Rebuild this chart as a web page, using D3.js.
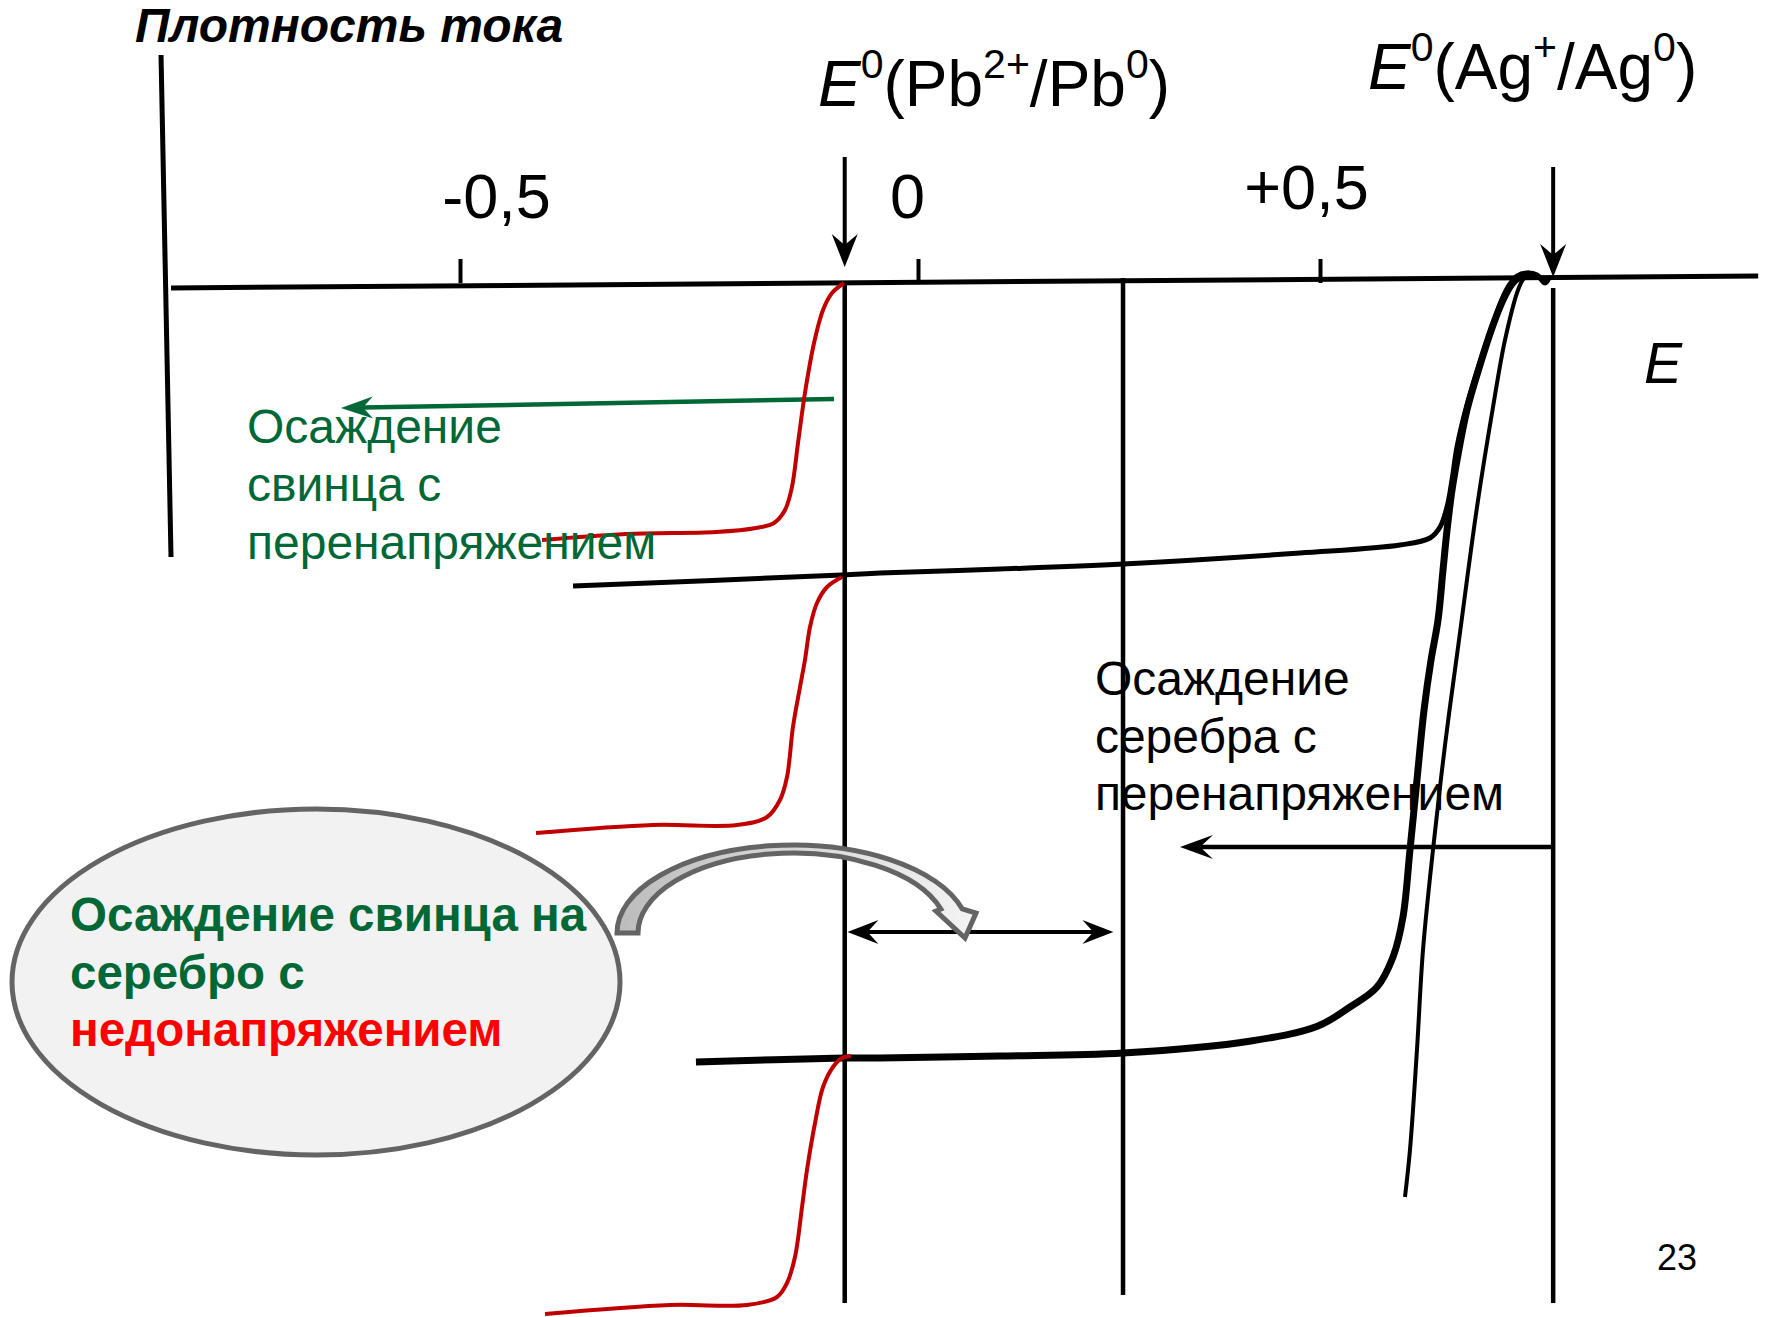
<!DOCTYPE html>
<html><head><meta charset="utf-8">
<script src="https://cdn.jsdelivr.net/npm/d3@7"></script>
<style>
html,body{margin:0;padding:0;background:#fff;}
svg{display:block;font-family:"Liberation Sans",Arial,sans-serif;}
</style>
</head><body>
<svg id="chart" width="1765" height="1317"></svg>
<script>
// ---------------- DATA ----------------
// potential axis (V) tick values and their labels
const tickValues = [-0.5, 0, 0.5];
const tickLabels = ["-0,5", "0", "+0,5"];
// marker potentials as drawn (V)
const ePb = -0.08, eMid = 0.255, eAg = 0.79;
// axis extents [E, j]
const xAxisEnds = [[-0.8155, -0.06], [1.045, 0.06]];
const yAxisEnds = [[-0.8264, 2.27], [-0.8155, -2.75]];

// red: lead deposition curves [E (V), j (arb. units)]
const redTop = [[-0.4105,-2.58],[-0.3188,-2.52],[-0.2205,-2.50],[-0.1769,-2.46],[-0.1572,-2.41],[-0.1452,-2.28],[-0.1376,-2.05],[-0.1310,-1.61],[-0.1234,-1.11],[-0.1135,-0.61],[-0.1037,-0.28],[-0.0939,-0.11],[-0.0808,-0.01]];
const redMid = [[-0.4170,-5.51],[-0.2893,-5.43],[-0.1976,-5.43],[-0.1648,-5.35],[-0.1507,-5.18],[-0.1430,-4.95],[-0.1365,-4.45],[-0.1288,-4.05],[-0.1234,-3.78],[-0.1179,-3.45],[-0.1103,-3.21],[-0.0993,-3.05],[-0.0830,-2.95]];
const redLow = [[-0.4072,-10.32],[-0.2707,-10.23],[-0.1867,-10.23],[-0.1539,-10.15],[-0.1430,-10.01],[-0.1343,-9.75],[-0.1266,-9.25],[-0.1212,-8.88],[-0.1124,-8.41],[-0.1037,-8.05],[-0.0928,-7.85],[-0.0830,-7.76],[-0.0731,-7.74]];

// black: silver deposition curves
const agUpper = [[-0.3766,-3.04],[-0.0830,-2.93],[-0.0415,-2.91],[0.1020,-2.87],[0.2550,-2.82],[0.4751,-2.71],[0.5995,-2.63],[0.6368,-2.56],[0.6493,-2.45],[0.6580,-2.25],[0.6642,-1.98],[0.6704,-1.65],[0.6828,-1.23],[0.6990,-0.80],[0.7139,-0.45],[0.7276,-0.15],[0.7363,-0.02],[0.7450,0.06],[0.7575,0.09],[0.7699,0.07],[0.7799,-0.01],[0.7848,0.04]];
const agLower = [[-0.2424,-7.80],[-0.0808,-7.76],[-0.0415,-7.76],[0.1020,-7.74],[0.2550,-7.71],[0.4142,-7.59],[0.4975,-7.44],[0.5373,-7.25],[0.5709,-7.05],[0.5908,-6.75],[0.6032,-6.35],[0.6119,-5.68],[0.6206,-4.98],[0.6294,-4.28],[0.6381,-3.78],[0.6468,-3.38],[0.6530,-2.88],[0.6580,-2.48],[0.6642,-2.08],[0.6716,-1.73],[0.6828,-1.28],[0.6990,-0.83],[0.7139,-0.46],[0.7276,-0.18],[0.7388,-0.02],[0.7488,0.05],[0.7612,0.08]];
const agThin = [[0.6057,-9.15],[0.6119,-8.68],[0.6206,-7.68],[0.6281,-6.68],[0.6405,-5.68],[0.6555,-4.63],[0.6729,-3.58],[0.6953,-2.25],[0.7152,-1.25],[0.7301,-0.58],[0.7463,-0.08],[0.7537,0.04],[0.7612,0.09]];

// annotation texts
const titleText = "Плотность тока";
const greenNote = ["Осаждение", "свинца с", "перенапряжением"];
const blackNote = ["Осаждение", "серебра с", "перенапряжением"];
const bubbleNote = [["Осаждение свинца на", "green"], ["серебро с", "green"], ["недонапряжением", "red"]];
const pageNumber = "23";

// ---------------- SCALES ----------------
const svg = d3.select("#chart");
const x = d3.scaleLinear().domain([-0.5, 0, 0.5]).range([460, 918, 1320]);
const y = d3.scaleLinear().domain([0, -10]).range([282, 1282]);
const line = d3.line().x(d => x(d[0])).y(d => y(d[1])).curve(d3.curveCatmullRom.alpha(0.5));
const straight = d3.line().x(d => x(d[0])).y(d => y(d[1]));

const GREEN = "#006837", RED = "#c00000", BRIGHTRED = "#ff0000", GREY = "#646464";

function arrowHead(g, x1, y1, x2, y2, len, half, notch, color) {
  const a = Math.atan2(y2 - y1, x2 - x1);
  const ux = Math.cos(a), uy = Math.sin(a), px = -uy, py = ux;
  const bx = x2 - ux * len, by = y2 - uy * len;
  const nx = x2 - ux * (len - notch), ny = y2 - uy * (len - notch);
  g.append("path")
    .attr("d", `M${x2},${y2}L${bx + px * half},${by + py * half}L${nx},${ny}L${bx - px * half},${by - py * half}Z`)
    .attr("fill", color);
  return [nx, ny];
}
function arrow(g, p1, p2, opts) {
  const x1 = x(p1[0]), y1 = y(p1[1]), x2 = x(p2[0]), y2 = y(p2[1]);
  const n = arrowHead(g, x1, y1, x2, y2, opts.len, opts.half, opts.notch, opts.color);
  g.append("line").attr("x1", x1).attr("y1", y1).attr("x2", n[0]).attr("y2", n[1])
    .attr("stroke", opts.color).attr("stroke-width", opts.width);
}

// ---------------- AXES ----------------
const gAxes = svg.append("g");
gAxes.append("path").attr("d", straight(yAxisEnds)).attr("stroke", "#000").attr("stroke-width", 5).attr("fill", "none");
gAxes.append("path").attr("d", straight(xAxisEnds)).attr("stroke", "#000").attr("stroke-width", 5).attr("fill", "none");

const labelShift = {"-0.5": [36, 0], "0": [-11, 0], "0.5": [-14, -9]};
const axis = d3.axisTop(x).tickValues(tickValues).tickSize(24).tickPadding(41)
  .tickFormat((d, i) => tickLabels[i]);
const gx = svg.append("g").attr("transform", `translate(0,${y(0) + 1})`).call(axis);
gx.select(".domain").remove();
gx.selectAll(".tick line").attr("stroke", "#000").attr("stroke-width", 4);
gx.selectAll(".tick text")
  .attr("font-family", "Liberation Sans, Arial, sans-serif")
  .attr("font-size", 63).attr("fill", "#000")
  .attr("dx", d => labelShift[String(d)][0])
  .attr("dy", d => labelShift[String(d)][1]);

// title
svg.append("text").attr("x", 135).attr("y", 42).text(titleText)
  .attr("font-size", 48).attr("font-weight", "bold").attr("font-style", "italic");

// E axis label
svg.append("text").attr("x", 1644).attr("y", 383).text("E")
  .attr("font-size", 57).attr("font-style", "italic");

// potential labels with superscripts
function potLabel(xp, yp, parts) {
  const t = svg.append("text").attr("x", xp).attr("y", yp).attr("font-size", 64);
  let raised = false;
  parts.forEach(p => {
    const s = t.append("tspan").text(p.t);
    if (p.i) s.attr("font-style", "italic");
    if (p.sup && !raised) { s.attr("font-size", 41).attr("dy", -28); raised = true; }
    else if (p.sup) { s.attr("font-size", 41); }
    else if (!p.sup && raised) { s.attr("dy", 28); raised = false; }
  });
}
potLabel(818, 106, [{t: "E", i: true}, {t: "0", sup: true}, {t: "(Pb"}, {t: "2+", sup: true}, {t: "/Pb"}, {t: "0", sup: true}, {t: ")"}]);
potLabel(1368, 89, [{t: "E", i: true}, {t: "0", sup: true}, {t: "(Ag"}, {t: "+", sup: true}, {t: "/Ag"}, {t: "0", sup: true}, {t: ")"}]);

// ---------------- MARKER LINES ----------------
const gMark = svg.append("g").attr("stroke", "#000").attr("stroke-width", 4.5);
gMark.append("line").attr("x1", x(ePb)).attr("x2", x(ePb)).attr("y1", y(0.01)).attr("y2", y(-10.21));
gMark.append("line").attr("x1", x(eMid)).attr("x2", x(eMid)).attr("y1", y(0.04)).attr("y2", y(-10.13));
gMark.append("line").attr("x1", x(eAg)).attr("x2", x(eAg)).attr("y1", y(-0.06)).attr("y2", y(-10.21));

const gArr = svg.append("g");
arrow(gArr, [ePb, 1.25], [ePb, 0.15], {len: 33, half: 13, notch: 11, color: "#000", width: 4});
arrow(gArr, [eAg, 1.15], [eAg, 0.05], {len: 33, half: 13, notch: 11, color: "#000", width: 4});

// ---------------- CURVES ----------------
const gc = svg.append("g").attr("fill", "none").attr("stroke-linecap", "butt").attr("stroke-linejoin", "round");
gc.append("path").attr("d", line(agUpper)).attr("stroke", "#000").attr("stroke-width", 5);
gc.append("path").attr("d", line(agLower)).attr("stroke", "#000").attr("stroke-width", 7);
gc.append("path").attr("d", line(agThin)).attr("stroke", "#000").attr("stroke-width", 4);
[redTop, redMid, redLow].forEach(s => gc.append("path").attr("d", line(s)).attr("stroke", RED).attr("stroke-width", 4));

// ---------------- ANNOTATION ARROWS ----------------
arrow(gArr, [-0.0917, -1.17], [-0.630, -1.26], {len: 32, half: 11, notch: 10, color: GREEN, width: 4.5});
arrow(gArr, [eAg, -5.65], [0.3259, -5.65], {len: 33, half: 12, notch: 13, color: "#000", width: 4.5});
arrow(gArr, [0.09, -6.50], [-0.077, -6.50], {len: 31, half: 12, notch: 11, color: "#000", width: 4});
arrow(gArr, [0.08, -6.50], [0.243, -6.50], {len: 31, half: 12, notch: 11, color: "#000", width: 4});

// ---------------- TEXT NOTES ----------------
const gGreen = svg.append("text").attr("font-size", 48).attr("fill", GREEN);
greenNote.forEach((s, i) => gGreen.append("tspan").attr("x", x(-0.7325)).attr("y", y(-1.61) + i * 58).text(s));
const gBlack = svg.append("text").attr("font-size", 48).attr("fill", "#000");
blackNote.forEach((s, i) => gBlack.append("tspan").attr("x", x(0.220)).attr("y", y(-4.13) + i * 57.5).text(s));

// bubble
const defs = svg.append("defs");
const grad = defs.append("linearGradient").attr("id", "arcFill").attr("x1", "0").attr("x2", "1").attr("y1", "0").attr("y2", "0");
grad.append("stop").attr("offset", "0").attr("stop-color", "#bcbcbc");
grad.append("stop").attr("offset", "1").attr("stop-color", "#f4f4f4");

svg.append("ellipse").attr("cx", 316).attr("cy", 982).attr("rx", 304).attr("ry", 173)
  .attr("fill", "#f2f2f2").attr("stroke", GREY).attr("stroke-width", 5);
const gBub = svg.append("text").attr("font-size", 47.5).attr("font-weight", "bold");
bubbleNote.forEach((s, i) => gBub.append("tspan").attr("x", 70).attr("y", 931 + i * 57.5)
  .attr("fill", s[1] === "green" ? GREEN : BRIGHTRED).text(s[0]));

// curved hollow arrow
(function () {
  const cx = 793, cy = 933, Ro = 176, ro = 88, Ri = 155, ri = 80;
  const ys = 24;
  const xo = cx + Ro * Math.sqrt(1 - (ys / ro) ** 2);
  const xi = cx + Ri * Math.sqrt(1 - (ys / ri) ** 2);
  const d = `M${cx - Ro},${cy} A${Ro},${ro} 0 0 1 ${xo},${cy - ys} L${cx + 183},${cy - 20} L${cx + 172},${cy + 5} L${cx + 143},${cy - 22} L${xi},${cy - ys} A${Ri},${ri} 0 0 0 ${cx - Ri},${cy} Z`;
  svg.append("path").attr("d", d).attr("fill", "url(#arcFill)").attr("stroke", GREY).attr("stroke-width", 5).attr("stroke-linejoin", "miter");
})();

// page number
svg.append("text").attr("x", 1657).attr("y", 1270).attr("font-size", 36).text(pageNumber);
</script>
</body></html>
